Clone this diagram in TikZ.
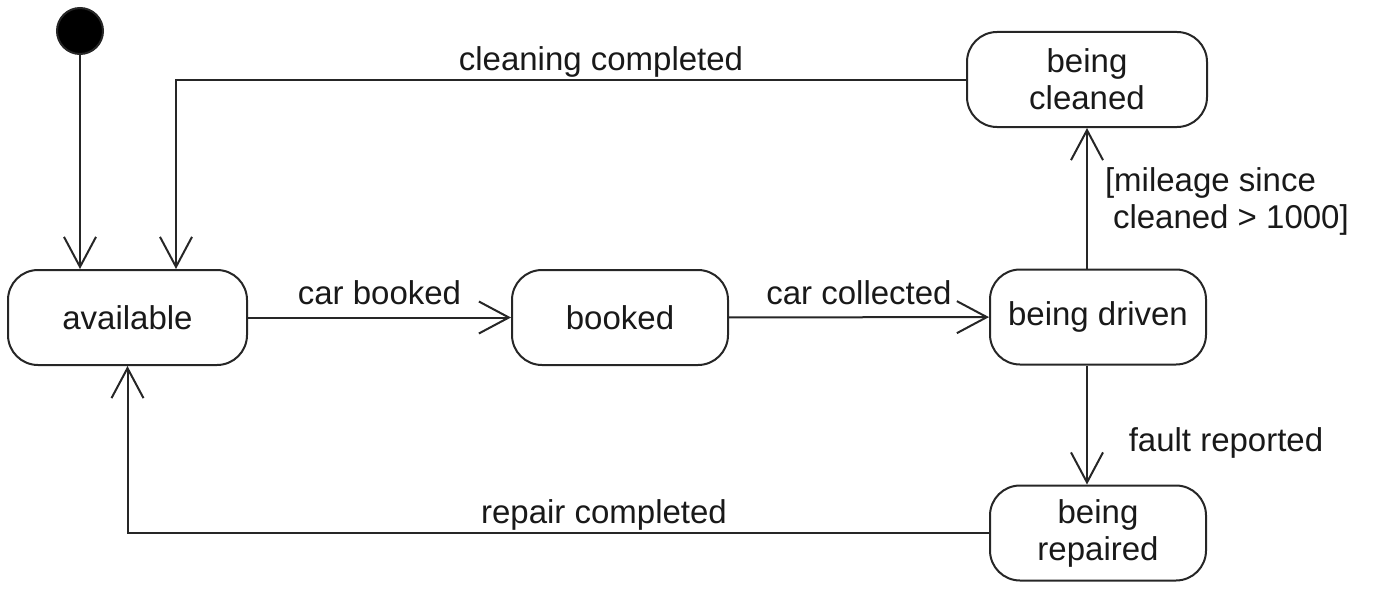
\documentclass[tikz,border=0pt]{standalone}
\usepackage{fontspec}
\setmainfont{Liberation Sans}
\usetikzlibrary{arrows.meta}
\begin{document}
\begin{tikzpicture}[x=1pt, y=-1pt, line width=2pt, draw=black!85, text=black!90,
	font=\fontsize{33}{37}\selectfont,
	state/.style={draw, rounded corners=30pt, minimum height=95pt, minimum width=216pt, align=center, inner sep=0pt},
	start/.style={draw, circle, fill=black, minimum size=46pt, inner sep=0pt},
	lbl/.style={inner sep=0pt},
	arr/.style={-{Straight Barb[length=30pt, width=32pt]}}]
		\useasboundingbox (0,0) rectangle (1375,602);
		\node[start] (init) at (80,31) {};
		\node[state, minimum width=239pt] (avail) at (127.5,317.5) {available};
		\node[state] (booked) at (620,317.5) {booked};
		\node[state] (driven) at (1098,317) {being driven};
		\node[state, minimum width=240pt] (cleaned) at (1087,79.5) {being\\cleaned};
		\node[state] (repaired) at (1098,533) {being\\repaired};

		\node[lbl] (lclean) at (601,62) {cleaning completed};
		\node[lbl] (lmile) [anchor=west] at (1104,201) [align=left] {[mileage since\\\hspace*{8pt}cleaned > 1000]};
		\node[lbl] (lfault) at (1226,443) {fault reported};
		\node[lbl] (lrepair) at (604,515) {repair completed};

		\draw[arr] (init) -- (init |- avail.north);
		\draw[arr] (cleaned.west) -| ([xshift=48.5pt]avail.north);
		\draw[arr] (avail) -- node[above=8pt] {car booked} (booked);
		\draw[arr] (booked) -- node[above=8pt] {car collected} (driven);
		\draw[arr] (driven.north -| cleaned) -- (cleaned.south);
		\draw[arr] (driven.south -| cleaned) -- (repaired.north -| cleaned);
		\draw[arr] (repaired.west) -| (avail.south);
	\end{tikzpicture}
\end{document}
